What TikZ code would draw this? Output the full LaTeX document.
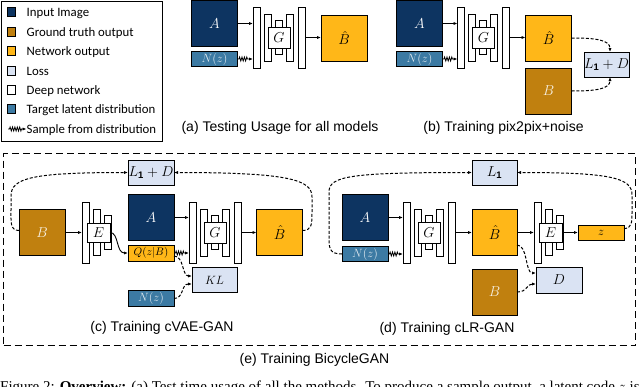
\documentclass[tikz,border=0pt]{standalone}
\usepackage{fontspec}
\setmainfont{Liberation Sans}
\newfontfamily\legfont{Carlito}
\newfontfamily\capserif{Liberation Serif}
\usetikzlibrary{arrows.meta,decorations.pathmorphing,calc}
\definecolor{cInput}{HTML}{0D3461}
\definecolor{cGT}{HTML}{C0800F}
\definecolor{cNet}{HTML}{FFB718}
\definecolor{cLoss}{HTML}{DAE3F3}
\definecolor{cLat}{HTML}{3C7AA3}
\newcommand{\mkgen}[4]{%
 \node[bar, minimum width=7pt, minimum height=61pt] (#1b1) at ({#2+3.5},#3) {};
 \node[bar, minimum width=7pt, minimum height=47pt] (#1b2) at ({#2+14.5},#3) {};
 \node[bar, minimum width=7pt, minimum height=34pt] (#1b3) at ({#2+25.5},#3) {};
 \node[bar, minimum width=7pt, minimum height=47pt] (#1b4) at ({#2+36.5},#3) {};
 \node[bar, minimum width=7pt, minimum height=61pt] (#1b5) at ({#2+48.5},#3) {};
 \node[bar, mbig, minimum width=22pt, minimum height=21pt] (#1) at ({#2+26},#3) {$#4$};
}
\newcommand{\mkenc}[4]{%
 \node[bar, minimum width=7pt, minimum height=61pt] (#1b1) at ({#2+3.5},#3) {};
 \node[bar, minimum width=7.5pt, minimum height=46pt] (#1b2) at ({#2+15},#3) {};
 \node[bar, minimum width=7.5pt, minimum height=34pt] (#1b3) at ({#2+26},#3) {};
 \node[bar, mbig, minimum width=23pt, minimum height=19pt] (#1) at ({#2+16.5},#3) {$#4$};
}
\begin{document}
\begin{tikzpicture}[x=1pt,y=-1pt,
  box/.style={draw=black, line width=1pt, inner sep=0pt, outer sep=0pt},
  bar/.style={box, fill=white},
  mbig/.style={font=\fontsize{14}{14}\selectfont},
  img/.style={box, mbig, minimum width=46pt, minimum height=46pt},
  inp/.style={img, fill=cInput, text=white},
  gtb/.style={img, fill=cGT, text=white!88!cGT},
  netb/.style={img, fill=cNet},
  lat/.style={box, fill=cLat, text=white!82!cLat, minimum width=46pt, minimum height=15.5pt, font=\fontsize{12}{12}\selectfont},
  lossb/.style={box, fill=cLoss, minimum width=45pt, minimum height=25pt, font=\fontsize{13.5}{13.5}\selectfont},
  arr/.style={line width=0.9pt, -{Latex[length=4pt,width=3.2pt]}},
  dsh/.style={line width=1pt, dash pattern=on 3pt off 1.8pt, -{Latex[length=4pt,width=3.2pt]}},
  zz/.style={line width=0.8pt, -{Latex[length=4pt,width=3.2pt]}, decorate, decoration={zigzag, amplitude=2pt, segment length=2.4pt, pre length=1.5pt, post length=4.5pt}},
  captxt/.style={font=\fontsize{14}{14}\selectfont, inner sep=0pt},
  legtxt/.style={anchor=base west, inner sep=0pt, font=\legfont\fontsize{12.8}{13}\selectfont}
]
\useasboundingbox (0,0) rectangle (640,386);

% ---------------- legend
\node[draw=black, line width=1.3pt, minimum width=161pt, minimum height=140pt, anchor=north west, inner sep=0pt] (legend) at (1,1) {};
\foreach \yy/\col/\lbl [count=\i] in {12/cInput/Input Image, 32/cGT/Ground truth output, 51/cNet/Network output, 71/cLoss/Loss, 90/white/Deep network, 109/cLat/Target latent distribution}{
  \node[box, fill=\col, minimum width=8pt, minimum height=9pt] (sw\i) at (11,\yy) {};
  \node[legtxt] (lt\i) at (26.5,{\yy+4.3}) {\lbl};
}
\coordinate (zs) at (8,129);
\coordinate (ze) at (26.5,129);
\draw[zz] (zs) -- (ze);
\node[legtxt] (lt7) at (26.5,133.3) {Sample from distribution};

% ---------------- panel (a)
\node[inp] (Aa) at (214.5,23.5) {$A$};
\node[lat] (Na) at (214.5,59) {$N(z)$};
\mkgen{Ga}{253}{37.5}{G}
\node[netb] (Bha) at (344,38) {$\hat{B}$};
\draw[arr] (Aa.east) -- (Aa.east -| Gab1.west);
\draw[zz] (Na.east) -- (Na.east -| Gab1.west);
\draw[arr] (Gab5.east) -- (Gab5.east -| Bha.west);
\node[captxt] (capa) at (280,128) {(a) Testing Usage for all models};

% ---------------- panel (b)
\node[inp] (Ab) at (419.5,23.5) {$A$};
\node[lat] (Nb) at (419.5,59) {$N(z)$};
\mkgen{Gb}{457.5}{37.5}{G}
\node[netb] (Bhb) at (548.5,38) {$\hat{B}$};
\node[gtb] (Bb) at (548.5,91) {$B$};
\node[lossb] (Lb) at (606.5,64.5) {$L_{\mathbf{1}}+D$};
\draw[arr] (Ab.east) -- (Ab.east -| Gbb1.west);
\draw[zz] (Nb.east) -- (Nb.east -| Gbb1.west);
\draw[arr] (Gbb5.east) -- (Gbb5.east -| Bhb.west);
\draw[dsh] (Bhb.east) .. controls (596,38) and (610,40) .. ([xshift=3.5pt]Lb.north);
\draw[dsh] (Bb.east) .. controls (596,91) and (610,89) .. ([xshift=3.5pt]Lb.south);
\node[captxt] (capb) at (503.5,128) {(b) Training pix2pix+noise};

% ---------------- outer frame (e)
\node[draw=black, line width=1.1pt, dash pattern=on 7pt off 4pt, minimum width=632pt, minimum height=192pt, anchor=north west, inner sep=0pt] (frame) at (3,153) {};
\node[captxt] (cape) at (314.5,360) {(e) Training BicycleGAN};

% ---------------- panel (c)
\node[lossb, minimum width=46pt] (Lc) at (151,172.5) {$L_{\mathbf{1}}+D$};
\node[gtb] (Bc) at (42,232.5) {$B$};
\mkenc{Ec}{82}{232.5}{E}
\node[inp] (Ac) at (151,217.5) {$A$};
\node[box, fill=cNet, minimum width=46pt, minimum height=16pt, font=\fontsize{11}{11}\selectfont] (Qc) at (151,253) {$Q(z|B)$};
\mkgen{Gc}{189}{232.5}{G}
\node[netb] (Bhc) at (279.5,232.5) {$\hat{B}$};
\node[lossb, font=\fontsize{13}{13}\selectfont] (KLc) at (214.5,280) {$KL$};
\node[lat] (Nc) at (151,298.5) {$N(z)$};
\draw[arr] (Bc.east) -- (Bc.east -| Ecb1.west);
\draw[arr] (Ec.east) .. controls (119,232.5) and (116,253) .. (Qc.west);
\draw[arr] (Ac.east) -- (Ac.east -| Gcb1.west);
\draw[zz] (Qc.east) -- (Qc.east -| Gcb1.west);
\draw[arr] (Gcb5.east) -- (Gcb5.east -| Bhc.west);
\draw[dsh] ([yshift=-3pt]Qc.east) .. controls (184,256) and (182,276) .. ([yshift=4pt]KLc.west);
\draw[dsh] (Nc.east) .. controls (184,298.5) and (181,284) .. ([yshift=-4pt]KLc.west);
\draw[dsh] ([yshift=2pt]Bc.west) .. controls (10,230.5) and (11,222) .. (11,210) -- (11,196) .. controls (11,178) and (32,172.5) .. (Lc.west);
\draw[dsh] ([yshift=2pt]Bhc.east) .. controls (312,230.5) and (312,224) .. (312,212) -- (312,197) .. controls (312,180) and (290,172.5) .. (Lc.east);
\node[captxt] (capc) at (162,328) {(c) Training cVAE-GAN};

% ---------------- panel (d)
\node[lossb] (Ld) at (494.5,172.5) {$L_{\mathbf{1}}$};
\node[inp] (Ad) at (365,217.5) {$A$};
\node[lat] (Nd) at (365,254) {$N(z)$};
\mkgen{Gd}{403}{232.5}{G}
\node[netb, minimum width=45pt] (Bhd) at (494.5,232.5) {$\hat{B}$};
\mkenc{Ed}{534}{232.5}{E}
\node[box, fill=cNet, minimum width=46pt, minimum height=15pt, font=\fontsize{12}{12}\selectfont] (zd) at (601,232.5) {$z$};
\node[lossb, mbig, minimum width=46pt, minimum height=26pt] (Dd) at (559,280) {$D$};
\node[gtb, minimum width=45pt] (Bd) at (494.5,292) {$B$};
\draw[arr] (Ad.east) -- (Ad.east -| Gdb1.west);
\draw[zz] (Nd.east) -- (Nd.east -| Gdb1.west);
\draw[arr] (Gdb5.east) -- (Gdb5.east -| Bhd.west);
\draw[arr] (Bhd.east) -- (Bhd.east -| Edb1.west);
\draw[arr] (Edb3.east) -- (zd.west);
\draw[dsh] ([yshift=-12.5pt]Bhd.east) .. controls (528,245) and (525,273) .. ([yshift=7pt]Dd.west);
\draw[dsh] (Bd.east) .. controls (528,292) and (526,284) .. ([yshift=-4pt]Dd.west);
\draw[dsh] (Nd.west) .. controls (329,254) and (329,248) .. (329,236) -- (329,192) .. controls (329,176) and (350,172.5) .. (Ld.west);
\draw[dsh] ([yshift=4pt]zd.east) .. controls (632,228.5) and (632,222) .. (632,212) -- (632,195) .. controls (632,178) and (612,172.5) .. (Ld.east);
\node[captxt] (capd) at (447,329) {(d) Training cLR-GAN};

% ---------------- clipped figure caption (only its top shows)
\begin{scope}
\clip (0,0) rectangle (640,386);
\node[anchor=base west, inner sep=0pt, font=\capserif\fontsize{15}{15}\selectfont] (figcap) at (0,391) {Figure 2: \textbf{Overview:} (a) Test time usage of all the methods. To produce a sample output, a latent code $z$ is first};
\end{scope}
\end{tikzpicture}
\end{document}
